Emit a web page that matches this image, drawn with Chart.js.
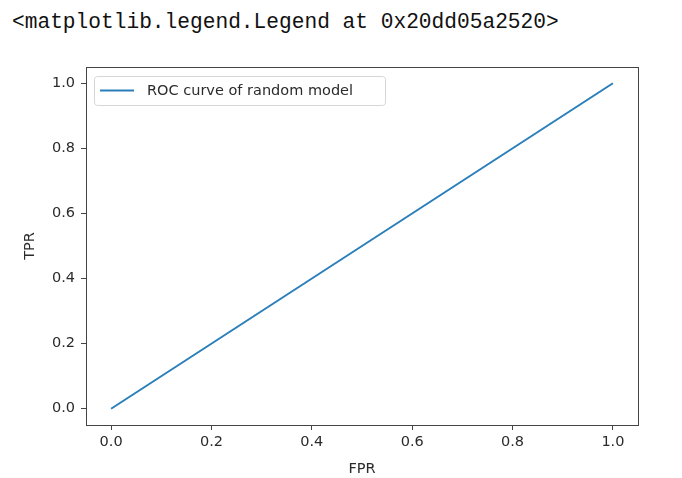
<!DOCTYPE html>
<html>
<head>
    <title>ROC curve</title>
    <script src="https://cdn.jsdelivr.net/npm/chart.js"></script>
    <style>
        body { margin: 0; background: #fff; }
        #out {
            position: absolute; left: 12px; top: 10px;
            font-family: "Liberation Mono", monospace; font-size: 21.2px;
            color: #111; white-space: pre;
        }
        #wrap { position: absolute; left: 0; top: 0; width: 682px; height: 478px; }
    </style>
</head>
<body>
    <div id="out">&lt;matplotlib.legend.Legend at 0x20dd05a2520&gt;</div>
    <div id="wrap"><canvas id="chart" width="682" height="478"></canvas></div>

    <script>
        // valeurs
        const fpr = [0.0, 1.0];
        const tpr = [0.0, 1.0];
        const tickValues = [0.0, 0.2, 0.4, 0.6, 0.8, 1.0];
        const seriesLabel = 'ROC curve of random model';

        const tickFont = { family: 'DejaVu Sans', size: 14.5 };
        const textColor = '#2b2b2b';

        // cadre autour de la zone du graphique + légende dans le coin
        const framePlugin = {
            id: 'frame',
            afterDraw(chart) {
                const ctx = chart.ctx;
                const a = chart.chartArea;
                ctx.save();
                ctx.strokeStyle = '#444';
                ctx.lineWidth = 1;
                ctx.strokeRect(Math.round(a.left) + 0.5, Math.round(a.top) + 0.5,
                    Math.round(a.right - a.left), Math.round(a.bottom - a.top));

                // légende
                const x = a.left + 8, y = a.top + 9, w = 291, h = 29;
                ctx.beginPath();
                ctx.roundRect(x + 0.5, y + 0.5, w, h, 3);
                ctx.fillStyle = 'rgba(255,255,255,0.8)';
                ctx.fill();
                ctx.strokeStyle = '#d6d6d6';
                ctx.stroke();
                const ds = chart.data.datasets[0];
                ctx.beginPath();
                ctx.moveTo(x + 6, y + 14.5);
                ctx.lineTo(x + 40, y + 14.5);
                ctx.strokeStyle = ds.borderColor;
                ctx.lineWidth = 2;
                ctx.stroke();
                ctx.fillStyle = textColor;
                ctx.font = '14.5px "DejaVu Sans"';
                ctx.textBaseline = 'middle';
                ctx.fillText(ds.label, x + 53, y + 15);
                ctx.restore();
            }
        };

        const ctx = document.getElementById('chart').getContext('2d');
        new Chart(ctx, {
            type: 'scatter',
            data: {
                datasets: [{
                    label: seriesLabel,
                    data: fpr.map((v, i) => ({ x: v, y: tpr[i] })),
                    showLine: true,
                    borderColor: '#2a7fba',
                    borderWidth: 2,
                    pointRadius: 0,
                    fill: false
                }]
            },
            options: {
                responsive: false,
                animation: false,
                layout: { padding: { top: 67, right: 44, left: 0, bottom: 0 } },
                plugins: { legend: { display: false }, tooltip: { enabled: false } },
                scales: {
                    x: {
                        type: 'linear',
                        min: -0.05, max: 1.05,
                        afterBuildTicks: s => { s.ticks = tickValues.map(v => ({ value: v })); },
                        afterFit: s => { s.height = 53; },
                        border: { display: false },
                        grid: { drawOnChartArea: false, tickLength: 5, color: '#444', tickColor: '#444' },
                        ticks: { font: tickFont, color: textColor, padding: 4,
                                 callback: v => v.toFixed(1) },
                        title: { display: true, text: 'FPR', font: tickFont, color: textColor,
                                 padding: { top: 0, bottom: 0 } }
                    },
                    y: {
                        type: 'linear',
                        min: -0.05, max: 1.05,
                        afterBuildTicks: s => { s.ticks = tickValues.map(v => ({ value: v })); },
                        afterFit: s => { s.width = 86; },
                        border: { display: false },
                        grid: { drawOnChartArea: false, tickLength: 5, color: '#444', tickColor: '#444' },
                        ticks: { font: tickFont, color: textColor, padding: 6,
                                 callback: v => v.toFixed(1) },
                        title: { display: true, text: 'TPR', font: tickFont, color: textColor,
                                 padding: { top: 22, bottom: 0 } }
                    }
                }
            },
            plugins: [framePlugin]
        });
    </script>
</body>
</html>
